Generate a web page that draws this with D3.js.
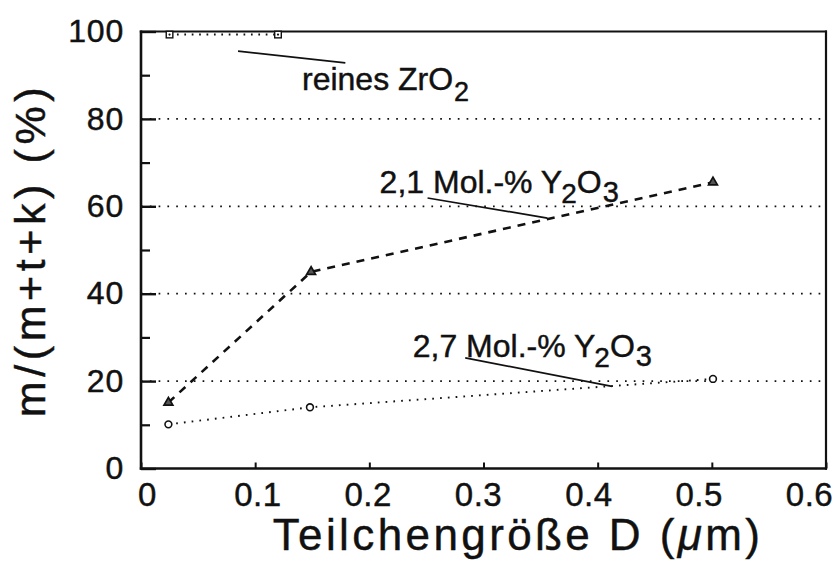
<!DOCTYPE html>
<html>
<head>
<meta charset="utf-8">
<script src="https://cdn.jsdelivr.net/npm/d3@7"></script>
<style>
  body { margin: 0; background: #fff; }
  svg { display: block; }
  text { font-family: "Liberation Sans", Arial, Helvetica, sans-serif; fill: #111; stroke: #111; stroke-width: 0.45px; }
</style>
</head>
<body>
<svg id="chart" width="840" height="562"></svg>
<script>
// Axis ticks
const xTicks = [0, 0.1, 0.2, 0.3, 0.4, 0.5, 0.6];
const yTicks = [0, 20, 40, 60, 80, 100];
const yMinorTicks = [10, 30, 50, 70, 90];
const gridValues = [20, 40, 60, 80];

// Monoclinic fraction vs. particle size, per composition
const sizeZrO2 = [0.025, 0.12];
const mZrO2 = [99.3, 99.3];
const size21 = [0.024, 0.149, 0.501];
const m21 = [15.1, 45.0, 65.5];
const size27 = [0.024, 0.148, 0.501];
const m27 = [10.1, 14.0, 20.5];

const svg = d3.select("#chart");
const W = 840, H = 562;
const margin = { left: 141, right: 14, top: 31.5, bottom: 93.5 };
const x = d3.scaleLinear().domain([0, 0.6]).range([margin.left, W - margin.right]);
const y = d3.scaleLinear().domain([0, 100]).range([H - margin.bottom, margin.top]);
// tick labels sit on a slightly narrower spacing than the ticks
const xLabelPos = d3.scaleLinear().domain([0, 0.6]).range([147, 809]);

const ink = "#111";

// dotted horizontal grid
svg.append("g").selectAll("line").data(gridValues).join("line")
  .attr("x1", x(0)).attr("x2", x(0.6))
  .attr("y1", d => y(d)).attr("y2", d => y(d))
  .attr("stroke", ink).attr("stroke-width", 1.8)
  .attr("stroke-dasharray", "1.7,7.1").attr("stroke-linecap", "butt");

// y axis: major ticks with labels, minor ticks without
const yAxis = svg.append("g").attr("transform", `translate(${x(0)},0)`)
  .call(d3.axisLeft(y).tickValues(yTicks).tickSize(-15).tickPadding(17).tickFormat(d3.format("d")));
yAxis.select(".domain").remove();
yAxis.selectAll("line").attr("stroke", ink).attr("stroke-width", 2.4);
yAxis.selectAll("text").attr("font-size", 32).attr("letter-spacing", 0.8)
  .style("font-family", "'Liberation Sans', Arial, sans-serif").attr("fill", ink);

const yMinor = svg.append("g").attr("transform", `translate(${x(0)},0)`)
  .call(d3.axisLeft(y).tickValues(yMinorTicks).tickSize(-9).tickFormat(""));
yMinor.select(".domain").remove();
yMinor.selectAll("line").attr("stroke", ink).attr("stroke-width", 2.2);

// x axis
const xAxis = svg.append("g").attr("transform", `translate(0,${y(0)})`)
  .call(d3.axisBottom(x).tickValues(xTicks).tickSize(-6).tickPadding(14)
    .tickFormat(d => d === 0 ? "0" : d.toFixed(1)));
xAxis.select(".domain").remove();
xAxis.selectAll("line").attr("stroke", ink).attr("stroke-width", 2);
xAxis.selectAll("text").attr("font-size", 33).attr("letter-spacing", 0.5)
  .style("font-family", "'Liberation Sans', Arial, sans-serif").attr("fill", ink)
  .attr("x", d => xLabelPos(d) - x(d));

// frame
const frame = svg.append("g").attr("stroke", ink).attr("fill", "none");
frame.append("line").attr("x1", x(0)).attr("x2", x(0)).attr("y1", y(100) - 1).attr("y2", y(0) + 1.2).attr("stroke-width", 2.6);
frame.append("line").attr("x1", x(0) - 1.2).attr("x2", x(0.6) + 1).attr("y1", y(0)).attr("y2", y(0)).attr("stroke-width", 2.6);
frame.append("line").attr("x1", x(0.6)).attr("x2", x(0.6)).attr("y1", y(100) - 1).attr("y2", y(0) + 1.2).attr("stroke-width", 2.2);
frame.append("line").attr("x1", x(0) - 1.2).attr("x2", x(0.6) + 1).attr("y1", y(100)).attr("y2", y(100)).attr("stroke-width", 1.8);

// series lines
const line = d3.line().x(d => x(d[0])).y(d => y(d[1]));
const seriesZrO2 = d3.zip(sizeZrO2, mZrO2);
const series21 = d3.zip(size21, m21);
const series27 = d3.zip(size27, m27);

svg.append("path").datum(seriesZrO2).attr("d", line)
  .attr("fill", "none").attr("stroke", ink).attr("stroke-width", 1.9).attr("stroke-dasharray", "1.7,5.7");
svg.append("path").datum(series21).attr("d", line)
  .attr("fill", "none").attr("stroke", ink).attr("stroke-width", 2.6).attr("stroke-dasharray", "8,7");
svg.append("path").datum(series27).attr("d", line)
  .attr("fill", "none").attr("stroke", ink).attr("stroke-width", 1.9).attr("stroke-dasharray", "1.7,6.1");

// markers
svg.append("g").selectAll("rect").data(seriesZrO2).join("rect")
  .attr("x", d => x(d[0]) - 3.3).attr("y", d => y(d[1]) - 3.3)
  .attr("width", 6.6).attr("height", 6.6)
  .attr("fill", "#fff").attr("stroke", ink).attr("stroke-width", 1.4);
svg.append("g").selectAll("circle").data(seriesZrO2).join("circle")
  .attr("cx", d => x(d[0])).attr("cy", d => y(d[1])).attr("r", 1.1).attr("fill", ink);

const tri = d3.symbol().type(d3.symbolTriangle).size(34);
svg.append("g").selectAll("path").data(series21).join("path")
  .attr("d", tri).attr("transform", d => `translate(${x(d[0])},${y(d[1])})`)
  .attr("fill", "#555").attr("stroke", ink).attr("stroke-width", 1.7);

svg.append("g").selectAll("circle").data(series27).join("circle")
  .attr("cx", d => x(d[0])).attr("cy", d => y(d[1])).attr("r", 3.4)
  .attr("fill", "#fff").attr("stroke", ink).attr("stroke-width", 1.6);

// labels with leader lines (anchor points in data units)
const leaders = [
  [[0.085, 95.5], [0.179, 92.8]],
  [[0.251, 61.9], [0.356, 57.3]],
  [[0.284, 25.3], [0.4125, 18.8]]
];
svg.append("g").selectAll("line").data(leaders).join("line")
  .attr("x1", d => x(d[0][0])).attr("y1", d => y(d[0][1]))
  .attr("x2", d => x(d[1][0])).attr("y2", d => y(d[1][1]))
  .attr("stroke", ink).attr("stroke-width", 1.7);

const lab1 = svg.append("text").attr("x", x(0.141)).attr("y", y(86.6)).attr("font-size", 32);
lab1.append("tspan").text("reines ZrO");
lab1.append("tspan").attr("font-size", 27).attr("dy", 11).attr("dx", 1).text("2");

function yttria(label, px, py) {
  const t = svg.append("text").attr("x", x(px)).attr("y", y(py)).attr("font-size", 32);
  t.append("tspan").text(label + " Y");
  t.append("tspan").attr("font-size", 28).attr("dy", 10).attr("dx", -1).text("2");
  t.append("tspan").attr("dy", -10).attr("dx", 0).text("O");
  t.append("tspan").attr("font-size", 29).attr("dy", 9).attr("dx", 1).text("3");
}
yttria("2,1 Mol.-%", 0.209, 63.0);
yttria("2,7 Mol.-%", 0.238, 25.5);

// axis titles
const xt = svg.append("text").attr("x", 518).attr("y", 550)
  .attr("text-anchor", "middle").attr("font-size", 44).attr("letter-spacing", 3.4);
xt.append("tspan").text("Teilchengröße D (");
xt.append("tspan").attr("font-style", "italic").text("μ");
xt.append("tspan").text("m)");

svg.append("text")
  .attr("transform", `translate(45,${(y(0) + y(100)) / 2}) rotate(-90)`)
  .attr("text-anchor", "middle").attr("font-size", 43).attr("letter-spacing", 4.6)
  .text("m/(m+t+k) (%)");
</script>
</body>
</html>
